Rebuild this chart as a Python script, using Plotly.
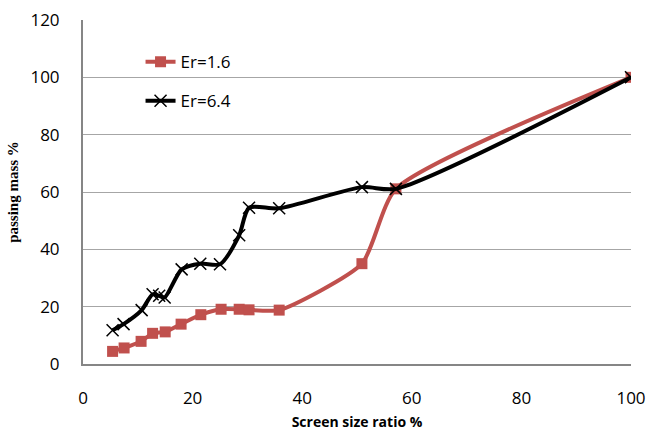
import plotly.graph_objects as go

# Screen size ratio (%) and passing mass (%) for the two Er settings
screen_er16 = [5.4, 7.5, 10.6, 12.7, 15.0, 17.9, 21.5, 25.2, 28.5, 30.3, 35.8, 50.9, 57.1, 100]
passing_er16 = [4.4, 5.6, 7.9, 10.7, 11.2, 13.9, 17.2, 19.1, 19.1, 18.9, 18.8, 35.0, 61.1, 100]

screen_er64 = [5.4, 7.4, 10.7, 12.7, 13.9, 14.9, 18.0, 21.4, 25.0, 28.5, 30.3, 35.8, 50.9, 57.1, 100]
passing_er64 = [11.8, 13.9, 18.8, 24.3, 23.8, 23.2, 33.0, 35.0, 34.8, 44.9, 54.5, 54.3, 61.7, 61.1, 100]

x_ticks = [0, 20, 40, 60, 80, 100]
y_ticks = [0, 20, 40, 60, 80, 100, 120]

fig = go.Figure()

fig.add_trace(go.Scatter(
    x=screen_er16, y=passing_er16, name="Er=1.6", legendgroup="a",
    mode="lines+markers",
    line=dict(color="#C0504D", width=4, shape="spline", smoothing=0.6),
    marker=dict(symbol="square", size=11, color="#C0504D"),
))
fig.add_trace(go.Scatter(
    x=screen_er64, y=passing_er64, name="Er=6.4", legendgroup="b",
    mode="lines+markers",
    line=dict(color="#000000", width=4, shape="spline", smoothing=0.7),
    marker=dict(symbol="x-thin", size=12, color="#000000",
                line=dict(width=1.5, color="#000000")),
))

fig.update_layout(
    width=649, height=434,
    margin=dict(l=83, r=18, t=20, b=70),
    paper_bgcolor="white", plot_bgcolor="white",
    font=dict(family="Open Sans", size=17, color="#000000"),
    showlegend=True,
    legend=dict(x=0.105, y=0.93, xanchor="left", yanchor="top",
                bgcolor="rgba(0,0,0,0)", tracegroupgap=14,
                font=dict(family="Open Sans", size=17)),
    xaxis=dict(
        range=[0, 100], tickvals=x_ticks, showgrid=False, zeroline=False,
        showline=True, linecolor="#868686", linewidth=2, automargin=False,
        ticks="", ticklabelstandoff=18,
        title=dict(text="Screen size ratio %", standoff=9,
                   font=dict(family="Open Sans", size=14, color="#000000", weight="bold")),
    ),
    yaxis=dict(
        range=[0, 120], tickvals=y_ticks, showgrid=True, gridcolor="#A6A6A6",
        gridwidth=1, zeroline=False, automargin=False,
        showline=True, linecolor="#868686", linewidth=2,
        ticks="", ticklabelstandoff=18,
        title=dict(text="passing mass %", standoff=8,
                   font=dict(family="Liberation Serif", size=15, color="#000000", weight="bold")),
    ),
)

fig.write_html("out.html")
